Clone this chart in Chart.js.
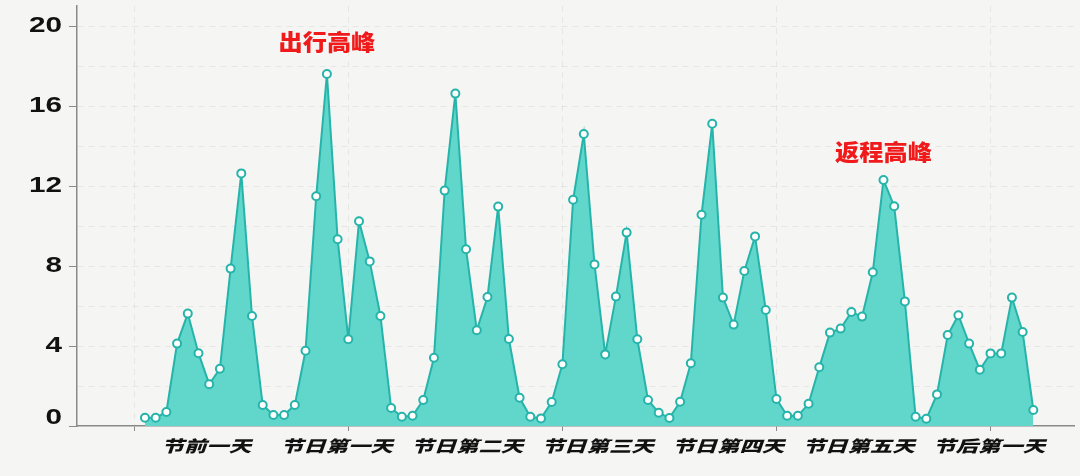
<!DOCTYPE html>
<html><head><meta charset="utf-8">
<script src="https://cdn.jsdelivr.net/npm/chart.js@4.4.1/dist/chart.umd.min.js"></script>
<style>html,body{margin:0;padding:0;background:#f5f5f4;overflow:hidden}#wrap{width:1080px;height:476px;position:relative}</style>
</head><body><div id="wrap"><canvas id="c" width="1080" height="476"></canvas></div>
<script>
// Categories (x-axis day labels)
const dayLabels = ['节前一天','节日第一天','节日第二天','节日第三天','节日第四天','节日第五天','节后第一天'];
// Series values, 12 readings per day
const dayBefore = [0.41,0.41,0.70,4.12,5.62,3.64,2.09,2.86,7.87,12.63,5.50,1.05];
const day1      = [0.55,0.55,1.05,3.76,11.49,17.60,9.34,4.34,10.24,8.23,5.50,0.90];
const day2      = [0.46,0.51,1.30,3.41,11.77,16.62,8.84,4.79,6.45,10.97,4.35,1.41];
const day3      = [0.46,0.38,1.20,3.09,11.31,14.60,8.08,3.58,6.47,9.67,4.34,1.30];
const day4      = [0.66,0.40,1.21,3.14,10.56,15.11,6.42,5.07,7.75,9.48,5.80,1.35];
const day5      = [0.51,0.51,1.11,2.94,4.67,4.87,5.70,5.47,7.69,12.30,10.99,6.23];
const dayAfter  = [0.46,0.36,1.58,4.55,5.54,4.12,2.81,3.63,3.63,6.42,4.70,0.80];
// Y tick labels
const yTickLabels = [0,4,8,12,16,20];
// Peak notes
const peakNotes = ['出行高峰','返程高峰'];
const peakNoteIndex = [17,69];
const peakNoteValue = [19.2,13.7];

const values = [].concat(dayBefore, day1, day2, day3, day4, day5, dayAfter);
const points = values.map((v,i)=>({x:i,y:v}));

const X_MIN = -6.35, X_MAX = 86.8;
const LABEL_START = 5.73, LABEL_STEP = 12.19;
const DIV_START = -1, DIV_STEP = 20;

function stretchedFill(c, sx, dyFn){
  const of = c.fillText;
  c.fillText = function(text,x,y){
    const dy = dyFn ? dyFn(text) : 0;
    c.save(); c.translate(x,y+dy); c.scale(sx,1); of.call(c,text,0,0); c.restore();
  };
  return ()=>{ c.fillText = of; };
}

const bgPlugin = {
  id:'bg',
  beforeDraw(chart){
    const c = chart.ctx;
    c.save(); c.fillStyle = '#f5f5f4'; c.fillRect(0,0,chart.width,chart.height); c.restore();
    const stretch = {x:1.4, y:1.35};
    const shift = {x:null, y:(t)=> t==='0' ? -8 : 0};
    for (const id of ['x','y']) {
      const s = chart.scales[id];
      if (s && !s._stWrapped) {
        const orig = s.drawLabels;
        s.drawLabels = function(area){
          const undo = stretchedFill(this.ctx, stretch[id], shift[id]);
          try { orig.call(this, area); } finally { undo(); }
        };
        s._stWrapped = true;
      }
    }
  }
};

const notePlugin = {
  id:'notes',
  afterDatasetsDraw(chart){
    const c = chart.ctx, xs = chart.scales.x, ys = chart.scales.y;
    c.save();
    c.font = "900 22px 'Noto Sans CJK SC', sans-serif";
    c.fillStyle = '#f01a1a';
    c.textAlign = 'center';
    c.textBaseline = 'middle';
    const undo = stretchedFill(c, 1.1);
    peakNotes.forEach((t,k)=>{
      c.fillText(t, xs.getPixelForValue(peakNoteIndex[k]), ys.getPixelForValue(peakNoteValue[k]));
    });
    undo();
    c.restore();
  }
};

new Chart(document.getElementById('c'), {
  type:'line',
  data:{ datasets:[{
    data: points,
    fill:'origin',
    backgroundColor:'rgb(97,215,204)',
    borderColor:'rgb(38,180,170)',
    borderWidth:2,
    tension:0,
    pointRadius:4,
    pointBorderWidth:2,
    pointBackgroundColor:'#ffffff',
    pointBorderColor:'rgb(38,180,170)',
    clip:false
  }]},
  options:{
    responsive:false,
    animation:false,
    devicePixelRatio:1,
    layout:{padding:{left:0,right:0,top:5,bottom:0}},
    plugins:{legend:{display:false},tooltip:{enabled:false}},
    scales:{
      x:{
        type:'linear', min:X_MIN, max:X_MAX,
        afterBuildTicks(scale){
          const t = [];
          for (let v = DIV_START; v <= X_MAX; v += DIV_STEP) t.push({value:v});
          dayLabels.forEach((d,k)=>t.push({value:LABEL_START + LABEL_STEP*k, day:k}));
          t.sort((a,b)=>a.value-b.value);
          scale.ticks = t;
        },
        afterFit(scale){ scale.height = 50; scale.paddingLeft = 0; scale.paddingRight = 0; },
        ticks:{
          autoSkip:false, maxRotation:0, minRotation:0, padding:5,
          color:'#111',
          font:{family:"'Noto Sans CJK SC', sans-serif", size:16, weight:'900', style:'italic'},
          callback(v,i,ticks){ const d = ticks[i].day; return d===undefined ? '' : dayLabels[d]; }
        },
        grid:{
          color(ctx){ return (ctx.tick && ctx.tick.day===undefined) ? 'rgba(0,0,0,0.06)' : 'rgba(0,0,0,0)'; },
          tickColor(ctx){ return (ctx.tick && ctx.tick.day===undefined) ? '#8a8a8a' : 'rgba(0,0,0,0)'; },
          tickLength:5, lineWidth:1
        },
        border:{display:true, color:'#8a8a8a', width:1.5, dash:[6,5]}
      },
      y:{
        type:'linear', min:0, max:21,
        afterBuildTicks(scale){
          const t = [];
          for (let v = 0; v <= 20; v += 2) t.push({value:v});
          scale.ticks = t;
        },
        afterFit(scale){ scale.width = 77; scale.paddingTop = 0; scale.paddingBottom = 0; },
        ticks:{
          padding:7, color:'#111',
          font:{family:"'Liberation Sans', Arial, sans-serif", size:22, weight:'bold'},
          callback(v){ return yTickLabels.includes(v) ? String(v) : ''; }
        },
        grid:{
          color(ctx){ return (ctx.tick && ctx.tick.value===0) ? 'rgba(0,0,0,0)' : 'rgba(0,0,0,0.06)'; },
          tickColor(ctx){ return (ctx.tick && yTickLabels.includes(ctx.tick.value)) ? '#8a8a8a' : 'rgba(0,0,0,0)'; },
          tickLength:8, lineWidth:1
        },
        border:{display:true, color:'#8a8a8a', width:1.5, dash:[6,5]}
      }
    }
  },
  plugins:[bgPlugin, notePlugin]
});
</script>
</body></html>
